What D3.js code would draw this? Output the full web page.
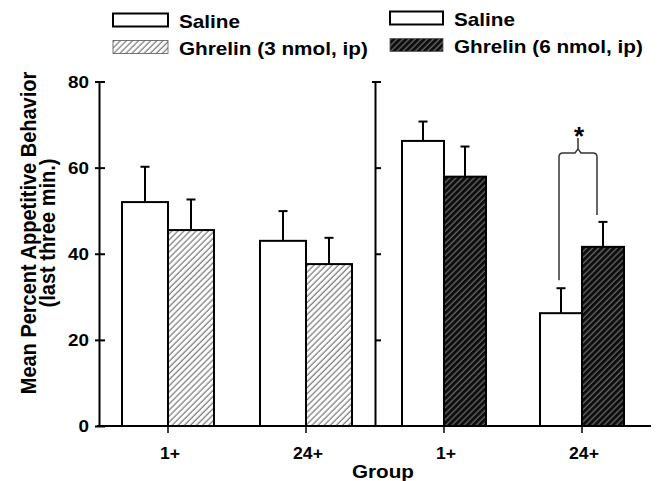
<!DOCTYPE html>
<html>
<head>
<meta charset="utf-8">
<script src="https://cdn.jsdelivr.net/npm/d3@7"></script>
<style>
  body { margin: 0; background: #fff; }
  text { font-family: "Liberation Sans", Arial, sans-serif; font-weight: bold; fill: #000; }
</style>
</head>
<body>
<script>
const groups = ["1+", "24+"];
const yTicks = [0, 20, 40, 60, 80];

// left panel: 3 nmol
const saline3 = [52.0, 43.0];
const saline3Err = [8.2, 6.9];
const ghrelin3 = [45.5, 37.6];
const ghrelin3Err = [7.1, 6.1];

// right panel: 6 nmol
const saline6 = [66.2, 26.2];
const saline6Err = [4.5, 5.8];
const ghrelin6 = [57.9, 41.6];
const ghrelin6Err = [7.0, 5.8];

const legendLeft = ["Saline", "Ghrelin (3 nmol, ip)"];
const legendRight = ["Saline", "Ghrelin (6 nmol, ip)"];
const sigGroup = "24+";

const width = 667, height = 481;
const STRETCH = 1.15;

const svg = d3.select("body").append("svg")
    .attr("width", width)
    .attr("height", height);

const defs = svg.append("defs");

const light = defs.append("pattern")
    .attr("id", "hatchLight")
    .attr("patternUnits", "userSpaceOnUse")
    .attr("width", 4.3).attr("height", 4.3)
    .attr("patternTransform", "rotate(45)");
light.append("rect").attr("width", 4.3).attr("height", 4.3).attr("fill", "#fff");
light.append("line")
    .attr("x1", 1).attr("x2", 1).attr("y1", 0).attr("y2", 4.3)
    .attr("stroke", "#333").attr("stroke-width", 0.8);

const dark = defs.append("pattern")
    .attr("id", "hatchDark")
    .attr("patternUnits", "userSpaceOnUse")
    .attr("width", 4.3).attr("height", 4.3)
    .attr("patternTransform", "rotate(45)");
dark.append("rect").attr("width", 4.3).attr("height", 4.3).attr("fill", "#0d0d0d");
dark.append("line")
    .attr("x1", 1).attr("x2", 1).attr("y1", 0).attr("y2", 4.3)
    .attr("stroke", "#8c8c8c").attr("stroke-width", 0.9);

// widen text a little, the original lettering is broad
const stretch = (sel, k = STRETCH) => sel.each(function () {
  const len = this.getComputedTextLength();
  d3.select(this).attr("textLength", len * k).attr("lengthAdjust", "spacingAndGlyphs");
});

const y = d3.scaleLinear().domain([0, 80]).range([426, 81.5]);
const xL = d3.scaleBand().domain(groups).range([99, 375]);
const xR = d3.scaleBand().domain(groups).range([375, 651]);
const mid = (x, g) => x(g) + x.bandwidth() / 2;

// bars
const drawPanel = (x, barW, salVals, salErr, ghVals, ghErr, fill) => {
  const rows = groups.map((g, i) => [
    {g, v: salVals[i], e: salErr[i], x0: mid(x, g) - barW, fill: "#fff"},
    {g, v: ghVals[i], e: ghErr[i], x0: mid(x, g), fill: fill}
  ]).flat();

  const p = svg.append("g");
  p.selectAll("line.err")
    .data(rows)
    .enter().append("line")
      .attr("class", "err")
      .attr("x1", d => d.x0 + barW / 2).attr("x2", d => d.x0 + barW / 2)
      .attr("y1", d => y(d.v)).attr("y2", d => y(d.v + d.e))
      .attr("stroke", "#000").attr("stroke-width", 2);
  p.selectAll("line.cap")
    .data(rows)
    .enter().append("line")
      .attr("class", "cap")
      .attr("x1", d => d.x0 + barW / 2 - 4.5).attr("x2", d => d.x0 + barW / 2 + 4.5)
      .attr("y1", d => y(d.v + d.e)).attr("y2", d => y(d.v + d.e))
      .attr("stroke", "#000").attr("stroke-width", 2);
  p.selectAll("rect")
    .data(rows)
    .enter().append("rect")
      .attr("x", d => d.x0)
      .attr("y", d => y(d.v))
      .attr("width", barW)
      .attr("height", d => y(0) - y(d.v))
      .attr("fill", d => d.fill)
      .attr("stroke", "#000")
      .attr("stroke-width", 2);
};

drawPanel(xL, 46, saline3, saline3Err, ghrelin3, ghrelin3Err, "url(#hatchLight)");
drawPanel(xR, 42, saline6, saline6Err, ghrelin6, ghrelin6Err, "url(#hatchDark)");

// left y axis
const yAxis = svg.append("g")
    .attr("transform", `translate(${xL.range()[0]},0)`)
    .call(d3.axisLeft(y).tickValues(yTicks).tickSize(4).tickSizeOuter(0).tickPadding(6));
yAxis.select(".domain").attr("stroke-width", 2);
yAxis.selectAll(".tick line").attr("x1", 6).attr("stroke-width", 2);
yAxis.selectAll(".tick text")
    .attr("font-size", 16.5)
    .attr("font-family", "Liberation Sans, Arial, sans-serif")
    .attr("dy", "0.36em")
    .call(stretch, 1.14);

// middle axis for the second panel
const yAxis2 = svg.append("g")
    .attr("transform", `translate(${xR.range()[0]},0)`)
    .call(d3.axisRight(y).tickValues(yTicks.slice(1)).tickSize(6).tickSizeOuter(0).tickFormat(""));
yAxis2.select(".domain").attr("stroke-width", 2);
yAxis2.selectAll(".tick line").attr("stroke-width", 2)
    .filter(d => d === 80).attr("x1", -3);

// bottom axis
svg.append("line")
    .attr("x1", xL.range()[0] - 2).attr("x2", xR.range()[1])
    .attr("y1", y(0)).attr("y2", y(0))
    .attr("stroke", "#000").attr("stroke-width", 2);

[xL, xR].forEach(x => {
  const ax = svg.append("g")
      .attr("transform", `translate(0,${y(0)})`)
      .call(d3.axisBottom(x).tickSize(7).tickSizeOuter(0).tickFormat(""));
  ax.select(".domain").remove();
  ax.selectAll(".tick line").attr("stroke-width", 1.5);

  svg.append("g").selectAll("text")
    .data(groups)
    .enter().append("text")
      .attr("x", d => mid(x, d) + 2)
      .attr("y", y(0) + 33)
      .attr("text-anchor", "middle")
      .style("font-size", "16px")
      .text(d => d)
      .call(stretch, 1.1);
});

svg.append("text")
    .attr("x", (xL.range()[0] + xR.range()[1]) / 2 + 8)
    .attr("y", 478)
    .attr("text-anchor", "middle")
    .style("font-size", "17.5px")
    .text("Group")
    .call(stretch, 1.18);

// y title, the original is a bit wider than tall
const yTitle = svg.append("g").attr("transform", "scale(1.1,1) translate(0,233) rotate(-90)");
yTitle.append("text")
    .attr("x", 0).attr("y", 33)
    .attr("text-anchor", "middle")
    .style("font-size", "20px")
    .text("Mean Percent Appetitive Behavior");
yTitle.append("text")
    .attr("x", 0).attr("y", 50)
    .attr("text-anchor", "middle")
    .style("font-size", "20px")
    .text("(last three min.)");

// significance bracket
const iSig = groups.indexOf(sigGroup);
const bl = mid(xR, sigGroup) - 23;
const br = mid(xR, sigGroup) + 15;
const bc = (bl + br) / 2;
const yLeftEnd = y(saline6[iSig] + saline6Err[iSig]) - 8;
const yRightEnd = y(ghrelin6[iSig] + ghrelin6Err[iSig]) - 7;
const yb = yRightEnd - 62;
const r = 4;
const bracket = d3.path();
bracket.moveTo(bl, yLeftEnd);
bracket.lineTo(bl, yb + r);
bracket.quadraticCurveTo(bl, yb, bl + r, yb);
bracket.lineTo(bc - 3, yb);
bracket.lineTo(bc, yb - 4);
bracket.lineTo(bc + 3, yb);
bracket.lineTo(br - r, yb);
bracket.quadraticCurveTo(br, yb, br, yb + r);
bracket.lineTo(br, yRightEnd);
bracket.moveTo(bc, yb - 4);
bracket.lineTo(bc, yb - 15);
svg.append("path")
    .attr("d", bracket.toString())
    .attr("fill", "none")
    .attr("stroke", "#333")
    .attr("stroke-width", 1.5);
svg.append("text")
    .attr("x", bc + 1)
    .attr("y", yb - 8)
    .attr("text-anchor", "middle")
    .style("font-size", "26px")
    .text("*");

// legends
const drawLegend = (x0, y0, labels, fill, boxW) => {
  const lg = svg.append("g").attr("transform", `translate(${x0},${y0})`);
  const item = lg.selectAll("g")
    .data(labels)
    .enter().append("g")
      .attr("transform", (d, i) => `translate(0,${i * 27})`);
  item.append("rect")
      .attr("width", boxW).attr("height", 13)
      .attr("fill", (d, i) => i === 0 ? "#fff" : fill)
      .attr("stroke", (d, i) => i === 0 ? "#000" : "#555")
      .attr("stroke-width", (d, i) => i === 0 ? 2 : 0.8);
  item.append("text")
      .attr("x", boxW + 11)
      .attr("y", 14.5)
      .style("font-size", "18.5px")
      .text(d => d)
      .call(stretch, 1.12);
};

drawLegend(113, 13.5, legendLeft, "url(#hatchLight)", 55);
drawLegend(390, 11.5, legendRight, "url(#hatchDark)", 53);
</script>
</body>
</html>
